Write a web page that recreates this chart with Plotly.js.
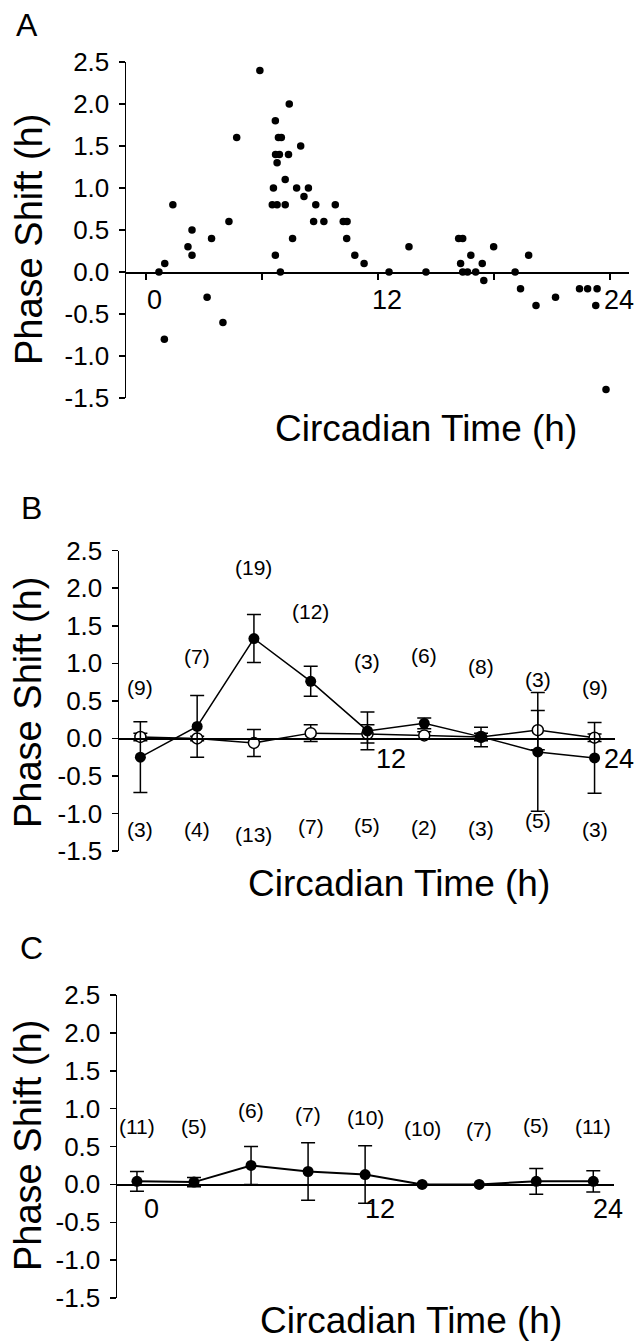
<!DOCTYPE html>
<html>
<head>
<meta charset="utf-8">
<script src="https://cdn.plot.ly/plotly-3.0.1.min.js"></script>
<style>html,body{margin:0;padding:0;background:#fff;}#chart{width:637px;height:1343px;}</style>
</head>
<body>
<div id="chart"></div>
<script>
// ---------------- DATA ----------------
// Panel A: individual phase shifts
const A_ct = [0.67, 0.97, 0.95, 1.39, 2.17, 2.38, 2.38, 3.16, 3.39, 3.98, 4.29, 4.69, 5.89,
  6.69, 7.41, 6.85, 7.0, 6.7, 6.9, 7.37, 6.78, 8.0, 7.2, 6.59, 7.79, 8.4, 8.17, 6.53, 6.78, 7.2,
  8.78, 9.79, 8.67, 9.2, 10.2, 10.4, 7.58, 10.38, 6.69, 10.8, 11.28, 6.95, 12.57, 13.6, 14.48,
  16.17, 16.38, 16.27, 16.8, 16.38, 16.63, 17.05, 17.39, 17.47, 17.98, 19.09, 19.37, 19.79,
  20.17, 21.18, 22.42, 22.84, 23.33, 23.26, 23.79];
const A_shift = [0.0, 0.1, -0.8, 0.8, 0.3, 0.5, 0.2, -0.3, 0.4, -0.6, 0.6, 1.6, 2.4,
  1.8, 2.0, 1.6, 1.6, 1.4, 1.4, 1.4, 1.3, 1.5, 1.1, 1.0, 1.0, 1.0, 0.9, 0.8, 0.8, 0.8,
  0.8, 0.8, 0.6, 0.6, 0.6, 0.6, 0.4, 0.4, 0.2, 0.2, 0.1, 0.0, 0.0, 0.3, 0.0,
  0.4, 0.4, 0.1, 0.2, 0.0, 0.0, 0.0, 0.1, -0.1, 0.3, 0.0, -0.2, 0.2,
  -0.4, -0.3, -0.2, -0.2, -0.2, -0.4, -1.4];

// Panel B: mean +/- SEM
const B_ct = [0, 3, 6, 9, 12, 15, 18, 21, 24];
const B_filled = [-0.25, 0.16, 1.33, 0.76, 0.10, 0.20, 0.02, -0.18, -0.26];
const B_filled_err = [0.47, 0.41, 0.32, 0.20, 0.25, 0.07, 0.13, 0.79, 0.47];
const B_open = [0.02, 0.0, -0.06, 0.07, 0.06, 0.04, 0.02, 0.11, 0.01];
const B_open_err = [0.05, 0.03, 0.18, 0.11, 0.12, 0.05, 0.05, 0.26, 0.05];
const B_n_top = ['(9)', '(7)', '(19)', '(12)', '(3)', '(6)', '(8)', '(3)', '(9)'];
const B_n_bottom = ['(3)', '(4)', '(13)', '(7)', '(5)', '(2)', '(3)', '(5)', '(3)'];

// Panel C: mean +/- SEM
const C_ct = [0, 3, 6, 9, 12, 15, 18, 21, 24];
const C_mean = [0.04, 0.03, 0.25, 0.17, 0.13, 0.0, 0.0, 0.04, 0.04];
const C_err = [0.13, 0.06, 0.25, 0.38, 0.38, 0, 0, 0.17, 0.14];
const C_n = ['(11)', '(5)', '(6)', '(7)', '(10)', '(10)', '(7)', '(5)', '(11)'];

// Axis tick labels
const yTickVals = [-1.5, -1.0, -0.5, 0.0, 0.5, 1.0, 1.5, 2.0, 2.5];
const yTickText = ['-1.5', '-1.0', '-0.5', '0.0', '0.5', '1.0', '1.5', '2.0', '2.5'];
const xTickMarksA = [0, 6, 12, 18, 24];
const xLabelValsA = [0, 12, 24];
const xLabelTextA = ['0', '12', '24'];
const xLabelValsB = [12, 24];
const xLabelTextB = ['12', '24'];
const xLabelValsC = [0, 12, 24];
const xLabelTextC = ['0', '12', '24'];
const yTitle = 'Phase Shift (h)';
const xTitle = 'Circadian Time (h)';
const panelLetters = ['A', 'B', 'C'];

// ---------------- LAYOUT ----------------
const W = 637, H = 1343;
const fx = px => px / W;
const fy = px => 1 - px / H;
const FONT = '"Liberation Sans", Arial, Helvetica, sans-serif';
const YR = [-1.5, 2.5];

// panel geometry in pixels
const P = {
  A: {left: 126, right: 629, top: 62, bottom: 398, xr: [-1.034, 24.98]},
  B: {left: 119, right: 615, top: 550.7, bottom: 851, xr: [-1.13, 25.08]},
  C: {left: 117, right: 614, top: 995, bottom: 1298, xr: [-1.05, 25.09]}
};
function zeroPos(g) {
  const b = fy(g.bottom), t = fy(g.top);
  return b + (0 - YR[0]) / (YR[1] - YR[0]) * (t - b);
}
function yAxis(g, anchor) {
  return {
    domain: [fy(g.bottom), fy(g.top)], range: YR, anchor: anchor,
    showline: true, linecolor: '#000', linewidth: 1.5, mirror: false,
    ticks: 'outside', ticklen: 6, tickwidth: 1.5, tickcolor: '#000',
    tickvals: yTickVals, ticktext: yTickText, ticklabelstandoff: 4,
    tickfont: {family: FONT, size: 26, color: '#000'},
    showgrid: false, zeroline: false, fixedrange: true
  };
}
function xAxis(g, tv, showTicks) {
  return {
    domain: [fx(g.left), fx(g.right)], range: g.xr, anchor: 'free', position: zeroPos(g),
    showline: true, linecolor: '#000', linewidth: 1.5,
    ticks: showTicks ? 'outside' : '', ticklen: 6, tickwidth: 1.5, tickcolor: '#000',
    tickvals: tv, showticklabels: false,
    showgrid: false, zeroline: false, fixedrange: true
  };
}

const errStyle = {type: 'data', visible: true, color: '#000', thickness: 1.5, width: 7};

const traces = [
  {x: A_ct, y: A_shift, xaxis: 'x', yaxis: 'y', mode: 'markers', type: 'scatter',
   marker: {color: '#000', size: 7.5}, hoverinfo: 'skip'},
  {x: B_ct, y: B_open, xaxis: 'x2', yaxis: 'y2', mode: 'lines+markers', type: 'scatter',
   line: {color: '#000', width: 1.5},
   marker: {color: '#fff', size: 11, line: {color: '#000', width: 1.5}},
   error_y: Object.assign({array: B_open_err}, errStyle), hoverinfo: 'skip'},
  {x: B_ct, y: B_filled, xaxis: 'x2', yaxis: 'y2', mode: 'lines+markers', type: 'scatter',
   line: {color: '#000', width: 1.5},
   marker: {color: '#000', size: 11},
   error_y: Object.assign({array: B_filled_err}, errStyle), hoverinfo: 'skip'},
  {x: C_ct, y: C_mean, xaxis: 'x3', yaxis: 'y3', mode: 'lines+markers', type: 'scatter',
   line: {color: '#000', width: 2},
   marker: {color: '#000', size: 11},
   error_y: Object.assign({array: C_err}, errStyle), hoverinfo: 'skip'}
];

// label placement (data-space y for n labels)
const B_topY = [0.675, 1.09, 2.27, 1.69, 1.02, 1.11, 0.96, 0.78, 0.675];
const B_botY = [-1.22, -1.22, -1.28, -1.17, -1.16, -1.19, -1.20, -1.10, -1.22];
const C_topY = [0.77, 0.77, 0.97, 0.92, 0.88, 0.74, 0.73, 0.78, 0.77];

const ann = [];
const nFont = {family: FONT, size: 21, color: '#000'};
B_ct.forEach((c, i) => {
  ann.push({x: c, y: B_topY[i], xref: 'x2', yref: 'y2', text: B_n_top[i], showarrow: false, font: nFont,
    xanchor: 'center', yanchor: 'middle'});
  ann.push({x: c, y: B_botY[i], xref: 'x2', yref: 'y2', text: B_n_bottom[i], showarrow: false, font: nFont,
    xanchor: 'center', yanchor: 'middle'});
});
C_ct.forEach((c, i) => {
  ann.push({x: c, y: C_topY[i], xref: 'x3', yref: 'y3', text: C_n[i], showarrow: false, font: nFont,
    xanchor: 'center', yanchor: 'middle'});
});

// x tick labels (placed beside the zero-line axis as in the original)
const tickFont = {family: FONT, size: 27, color: '#000'};
function addXLabels(vals, texts, xref, ypx, shift) {
  vals.forEach((v, i) => ann.push({x: v, y: fy(ypx), xref: xref, yref: 'paper', text: texts[i],
    showarrow: false, font: tickFont, xanchor: 'center', yanchor: 'middle', xshift: shift}));
}
addXLabels(xLabelValsA, xLabelTextA, 'x', 300, 9);
addXLabels(xLabelValsB, xLabelTextB, 'x2', 759, 24);
addXLabels(xLabelValsC, xLabelTextC, 'x3', 1209, 15);

const letterPos = [[27, 25], [31, 508], [31, 948]];
panelLetters.forEach((l, i) => {
  ann.push({x: fx(letterPos[i][0]), y: fy(letterPos[i][1]), xref: 'paper', yref: 'paper', text: l,
    showarrow: false, xanchor: 'center', yanchor: 'middle', font: {family: FONT, size: 32, color: '#000'}});
});
const yTitlePos = [[29, 240], [28, 703], [28, 1146]];
const xTitlePos = [[426, 429], [399, 884], [411, 1320]];
for (let i = 0; i < 3; i++) {
  ann.push({x: fx(yTitlePos[i][0]), y: fy(yTitlePos[i][1]), xref: 'paper', yref: 'paper', text: yTitle,
    textangle: -90, showarrow: false, xanchor: 'center', yanchor: 'middle',
    font: {family: FONT, size: 38, color: '#000'}});
  ann.push({x: fx(xTitlePos[i][0]), y: fy(xTitlePos[i][1]), xref: 'paper', yref: 'paper', text: xTitle,
    showarrow: false, xanchor: 'center', yanchor: 'middle',
    font: {family: FONT, size: 37, color: '#000'}});
}

const layout = {
  width: W, height: H, margin: {l: 0, r: 0, t: 0, b: 0},
  paper_bgcolor: '#fff', plot_bgcolor: 'rgba(0,0,0,0)', showlegend: false,
  xaxis: xAxis(P.A, xTickMarksA, true),
  yaxis: yAxis(P.A, 'x'),
  xaxis2: xAxis(P.B, [], false),
  yaxis2: yAxis(P.B, 'x2'),
  xaxis3: xAxis(P.C, [], false),
  yaxis3: yAxis(P.C, 'x3'),
  annotations: ann
};

Plotly.newPlot('chart', traces, layout, {staticPlot: true, displayModeBar: false});
</script>
</body>
</html>
